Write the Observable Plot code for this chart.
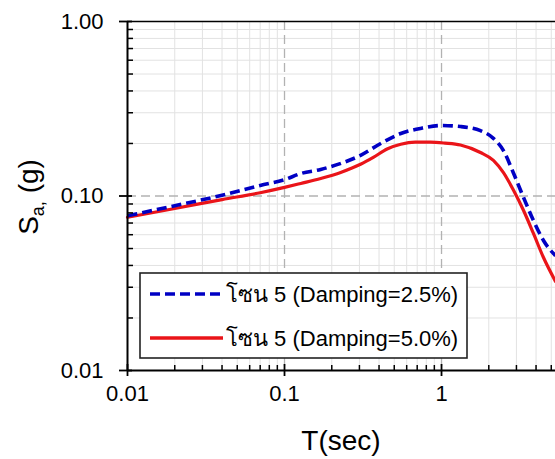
<!DOCTYPE html>
<html><head><meta charset="utf-8">
<script src="https://cdn.jsdelivr.net/npm/d3@7"></script>
<script src="https://cdn.jsdelivr.net/npm/@observablehq/plot@0.6"></script>
<style>html,body{margin:0;padding:0;background:#fff;overflow:hidden}svg{display:block}</style>
</head><body><div id="chart"></div>
<script>
const seriesNames = ["โซน 5 (Damping=2.5%)", "โซน 5 (Damping=5.0%)"];
const seriesColors = ["#0000c4", "#ea1419"];
const periodsA = [0.01, 0.02, 0.04, 0.07, 0.1, 0.127, 0.17, 0.23, 0.305, 0.41, 0.55, 0.735, 0.99, 1.32, 1.77, 2.14, 2.48, 2.88, 3.33, 3.85, 4.46, 5.32];
const saA      = [0.077, 0.088, 0.101, 0.115, 0.124, 0.1345, 0.142, 0.154, 0.171, 0.200, 0.228, 0.244, 0.2535, 0.250, 0.237, 0.214, 0.182, 0.1345, 0.098, 0.0724, 0.0556, 0.0455];
const periodsB = [0.01, 0.02, 0.04, 0.07, 0.1, 0.127, 0.17, 0.23, 0.305, 0.37, 0.45, 0.55, 0.68, 0.85, 1.05, 1.32, 1.77, 2.14, 2.48, 2.88, 3.33, 3.85, 4.46, 5.32];
const saB      = [0.0755, 0.0848, 0.0954, 0.1044, 0.112, 0.118, 0.126, 0.137, 0.152, 0.167, 0.186, 0.198, 0.2035, 0.2035, 0.201, 0.196, 0.1776, 0.160, 0.136, 0.1075, 0.0826, 0.061, 0.0444, 0.0324];
const xMajor = [0.01, 0.1, 1];
const xTickLabels = ["0.01", "0.1", "1"];
const xMinor = [0.02, 0.03, 0.04, 0.05, 0.06, 0.07, 0.08, 0.09, 0.2, 0.3, 0.4, 0.5, 0.6, 0.7, 0.8, 0.9, 2, 3, 4, 5];
const yMajor = [0.01, 0.1, 1];
const yTickLabels = ["0.01", "0.10", "1.00"];
const yMinor = [0.02, 0.03, 0.04, 0.05, 0.06, 0.07, 0.08, 0.09, 0.2, 0.3, 0.4, 0.5, 0.6, 0.7, 0.8, 0.9];
const xTitle = "T(sec)";

const W = 555, H = 459, mL = 127, mT = 21, mB = 89, mR = 0;
const plotW = W - mL - mR, plotH = H - mT - mB;
const font = "'Liberation Sans', Arial, Helvetica, sans-serif";
const rowsA = periodsA.map((t, i) => ({T: t, Sa: saA[i]}));
const rowsB = periodsB.map((t, i) => ({T: t, Sa: saB[i]}));
const dash = "10,5";

const chart = Plot.plot({
  width: W, height: H, marginLeft: mL, marginRight: mR, marginTop: mT, marginBottom: mB,
  style: {fontFamily: font, background: "#fff", color: "#000"},
  x: {type: "log", domain: [0.01, 5.32]},
  y: {type: "log", domain: [0.01, 1]},
  marks: [
    Plot.ruleX(xMinor, {stroke: "#e2e2e2", strokeWidth: 1}),
    Plot.ruleY(yMinor, {stroke: "#e2e2e2", strokeWidth: 1}),
    Plot.ruleX([0.1, 1], {stroke: "#b2b2b2", strokeWidth: 1.3, strokeDasharray: "9,5"}),
    Plot.ruleY([0.1], {stroke: "#b2b2b2", strokeWidth: 1.3, strokeDasharray: "9,5"}),
    Plot.line(rowsB, {x: "T", y: "Sa", stroke: seriesColors[1], strokeWidth: 3.2, curve: "monotone-x"}),
    Plot.line(rowsA, {x: "T", y: "Sa", stroke: seriesColors[0], strokeWidth: 3.6, strokeDasharray: dash, strokeLinecap: "butt", curve: "monotone-x"}),
    Plot.ruleY([1], {stroke: "#000", strokeWidth: 1.6}),
    Plot.ruleX([0.01], {stroke: "#000", strokeWidth: 2}),
    Plot.ruleY([0.01], {stroke: "#000", strokeWidth: 2}),
    Plot.tickX(xMinor, {insetTop: plotH - 5, stroke: "#000", strokeWidth: 1.5}),
    Plot.tickX(xMajor, {insetTop: plotH - 6, insetBottom: -6, stroke: "#000", strokeWidth: 1.8}),
    Plot.tickY(yMinor, {insetRight: plotW - 6, stroke: "#000", strokeWidth: 1.5}),
    Plot.tickY(yMajor, {insetLeft: -8, insetRight: plotW - 5, stroke: "#000", strokeWidth: 1.8}),
    Plot.axisX(xMajor, {tickSize: 0, tickPadding: 15, fontSize: 22, label: null, tickFormat: d => xTickLabels[xMajor.indexOf(d)]}),
    Plot.axisY(yMajor, {tickSize: 0, tickPadding: 24, fontSize: 22, label: null, tickFormat: d => yTickLabels[yMajor.indexOf(d)]})
  ]
});
document.getElementById("chart").appendChild(chart);

const svg = d3.select(chart);
svg.append("text").attr("x", 341).attr("y", 450).attr("text-anchor", "middle")
  .attr("font-family", font).attr("font-size", 28).attr("fill", "#000").text(xTitle);

const yt = svg.append("text").attr("transform", "translate(38,197) rotate(-90)")
  .attr("text-anchor", "middle").attr("font-family", font).attr("font-size", 28).attr("fill", "#000");
yt.append("tspan").text("S");
yt.append("tspan").attr("font-size", 18).attr("dy", 6).text("a,");
yt.append("tspan").attr("dy", -6).text(" (g)");

const lg = svg.append("g");
lg.append("rect").attr("x", 140).attr("y", 273).attr("width", 327).attr("height", 85)
  .attr("fill", "#fff").attr("stroke", "#222").attr("stroke-width", 1.6);
seriesNames.forEach((name, i) => {
  const y = 294 + i * 44;
  lg.append("line").attr("x1", 150).attr("x2", 223).attr("y1", y).attr("y2", y)
    .attr("stroke", seriesColors[i]).attr("stroke-width", 3.6)
    .attr("stroke-linecap", "butt")
    .attr("stroke-dasharray", i === 0 ? dash : null);
  lg.append("text").attr("x", 226).attr("y", y + 8).attr("text-anchor", "start")
    .attr("font-family", font).attr("font-size", 22).attr("fill", "#000").text(name);
});
</script>
</body></html>
